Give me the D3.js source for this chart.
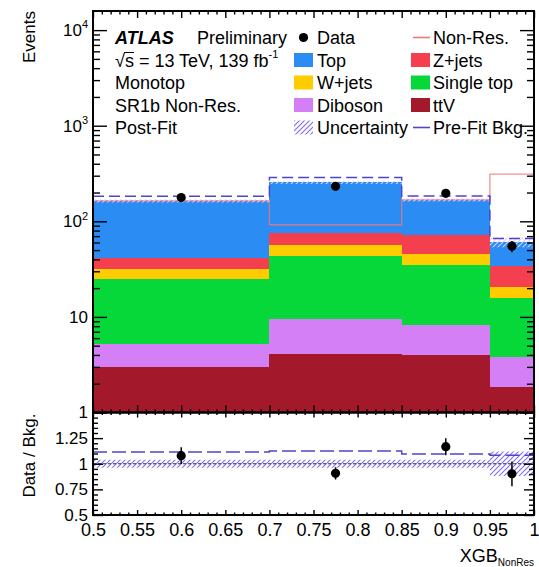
<!DOCTYPE html>
<html>
<head>
<meta charset="utf-8">
<script src="https://cdn.jsdelivr.net/npm/d3@7"></script>
<style>
  body { margin: 0; background: #fff; }
  svg text { font-family: "Liberation Sans", Arial, Helvetica, sans-serif; fill: #000; }
</style>
</head>
<body>
<div id="chart"></div>
<script>
// bin edges of XGB_NonRes and the post-fit background yields per bin
var binEdges     = [0.5, 0.7, 0.85, 0.95, 1.0];
var ttV          = [2.98, 4.12, 3.95, 1.87];
var diboson      = [2.26, 5.45, 4.20, 1.93];
var singleTop    = [19.9, 33.4, 26.5, 12.1];
var wJets        = [6.9, 13.0, 11.3, 4.6];
var zJets        = [9.7, 19.4, 25.4, 13.3];
var topBkg       = [122.3, 180.6, 96.7, 27.2];

var dataCounts   = [177, 232, 196, 55];
var dataErrors   = [13.3, 15.2, 14.0, 7.4];
var preFitBkg    = [183, 288, 184, 66];
var nonResSignal = [164, 92, 168, 311];
var bkgRelUnc    = [0.04, 0.04, 0.04, 0.12];

var xMajorTicks  = [0.5, 0.55, 0.6, 0.65, 0.7, 0.75, 0.8, 0.85, 0.9, 0.95, 1.0];
var xTickLabels  = ["0.5", "0.55", "0.6", "0.65", "0.7", "0.75", "0.8", "0.85", "0.9", "0.95", "1"];
var yMajorTicks  = [1, 10, 100, 1000, 10000];
var rMajorTicks  = [0.5, 0.75, 1, 1.25, 1.5];
var rTickLabels  = ["0.5", "0.75", "1", "1.25", ""];

var stackKeys = ["ttV", "diboson", "singleTop", "wJets", "zJets", "top"];
var colors = {
  top: "#2b8cf3",
  zJets: "#f4404e",
  wJets: "#ffcc00",
  singleTop: "#05d838",
  diboson: "#d47ff6",
  ttV: "#a3182b",
  nonRes: "#ee7777",
  preFit: "#4f43d0",
  hatch: "#7d6ef0"
};

var width = 539,
    height = 567;
// note: "top" is reserved on window, so the frame edges get plot* names
var plotLeft = 93, plotRight = 534, plotTop = 11, mainBottom = 412.5, ratioBottom = 515;

var xScale = d3.scaleLinear().domain([0.5, 1]).range([plotLeft, plotRight]);
var yScale = d3.scaleLog().domain([1, Math.pow(10, 4.2)]).range([mainBottom, plotTop]);
var rScale = d3.scaleLinear().domain([0.5, 1.5]).range([ratioBottom, mainBottom]);

var rows = binEdges.slice(0, -1).map(function(lo, i) {
  return {
    lo: lo, hi: binEdges[i + 1],
    ttV: ttV[i], diboson: diboson[i], singleTop: singleTop[i],
    wJets: wJets[i], zJets: zJets[i], top: topBkg[i]
  };
});
var totals = rows.map(function(r) {
  return d3.sum(stackKeys, function(k) { return r[k]; });
});

var svg = d3.select("#chart").append("svg")
    .attr("width", width)
    .attr("height", height);

var defs = svg.append("defs");
defs.append("clipPath").attr("id", "mainClip")
  .append("rect").attr("x", plotLeft).attr("y", plotTop)
    .attr("width", plotRight - plotLeft).attr("height", mainBottom - plotTop);
defs.append("clipPath").attr("id", "ratioClip")
  .append("rect").attr("x", plotLeft).attr("y", mainBottom)
    .attr("width", plotRight - plotLeft).attr("height", ratioBottom - mainBottom);

addHatch("hatchRatio", colors.hatch);
addHatch("hatchMain", "#d6d0ff");

drawStack();
drawMainOverlays();
drawRatio();
drawAxes();
drawLegend();

function addHatch(id, color) {
  var p = defs.append("pattern")
      .attr("id", id)
      .attr("patternUnits", "userSpaceOnUse")
      .attr("width", 5).attr("height", 5);
  p.append("path")
      .attr("d", "M-1,1 L1,-1 M0,5 L5,0 M4,6 L6,4")
      .attr("stroke", color)
      .attr("stroke-width", 1.1);
}

function stepPoints(values, extra) {
  var pts = values.map(function(v, i) { return [binEdges[i], v, extra ? extra[i] : 0]; });
  var n = values.length - 1;
  pts.push([binEdges[n + 1], values[n], extra ? extra[n] : 0]);
  return pts;
}

function drawStack() {
  var stack = d3.stack().keys(stackKeys)(rows);
  svg.append("g")
      .attr("clip-path", "url(#mainClip)")
    .selectAll("g")
    .data(stack)
    .enter().append("g")
      .attr("fill", function(d) { return colors[d.key]; })
    .selectAll("rect")
    .data(function(d) { return d; })
    .enter().append("rect")
      .attr("shape-rendering", "crispEdges")
      .attr("x", function(d) { return xScale(d.data.lo); })
      .attr("width", function(d) { return xScale(d.data.hi) - xScale(d.data.lo); })
      .attr("y", function(d) { return yScale(d[1]); })
      .attr("height", function(d) { return yScale(Math.max(d[0], 1)) - yScale(d[1]); });
}

function drawMainOverlays() {
  var g = svg.append("g").attr("clip-path", "url(#mainClip)");

  var line = d3.line()
      .x(function(d) { return xScale(d[0]); })
      .y(function(d) { return yScale(d[1]); })
      .curve(d3.curveStepAfter);

  g.append("path")
      .attr("d", line(stepPoints(nonResSignal)))
      .attr("fill", "none")
      .attr("stroke", colors.nonRes)
      .attr("stroke-opacity", 0.8)
      .attr("stroke-width", 1.3);

  var band = d3.area()
      .x(function(d) { return xScale(d[0]); })
      .y0(function(d) { return yScale(d[1] * (1 - d[2])); })
      .y1(function(d) { return yScale(d[1] * (1 + d[2])); })
      .curve(d3.curveStepAfter);
  g.append("path")
      .attr("d", band(stepPoints(totals, bkgRelUnc)))
      .attr("fill", "url(#hatchMain)");

  g.append("path")
      .attr("d", line(stepPoints(preFitBkg)))
      .attr("fill", "none")
      .attr("stroke", colors.preFit)
      .attr("stroke-width", 1.5)
      .attr("stroke-dasharray", "11,5");

  var pts = dataCounts.map(function(v, i) {
    return { x: (binEdges[i] + binEdges[i + 1]) / 2, y: v, e: dataErrors[i] };
  });
  g.selectAll("line.err")
    .data(pts)
    .enter().append("line")
      .attr("x1", function(d) { return xScale(d.x); })
      .attr("x2", function(d) { return xScale(d.x); })
      .attr("y1", function(d) { return yScale(d.y - d.e); })
      .attr("y2", function(d) { return yScale(d.y + d.e); })
      .attr("stroke", "#000")
      .attr("stroke-width", 1.5);
  g.selectAll("circle")
    .data(pts)
    .enter().append("circle")
      .attr("cx", function(d) { return xScale(d.x); })
      .attr("cy", function(d) { return yScale(d.y); })
      .attr("r", 4.6)
      .attr("fill", "#000");
}

function drawRatio() {
  var g = svg.append("g").attr("clip-path", "url(#ratioClip)");
  var ones = totals.map(function() { return 1; });

  var band = d3.area()
      .x(function(d) { return xScale(d[0]); })
      .y0(function(d) { return rScale(d[1] - d[2]); })
      .y1(function(d) { return rScale(d[1] + d[2]); })
      .curve(d3.curveStepAfter);
  g.append("path")
      .attr("d", band(stepPoints(ones, bkgRelUnc)))
      .attr("fill", "url(#hatchRatio)");

  g.append("line")
      .attr("x1", plotLeft).attr("x2", plotRight)
      .attr("y1", rScale(1)).attr("y2", rScale(1))
      .attr("stroke", "#333")
      .attr("stroke-width", 1)
      .attr("stroke-dasharray", "3,2");

  var line = d3.line()
      .x(function(d) { return xScale(d[0]); })
      .y(function(d) { return rScale(d[1]); })
      .curve(d3.curveStepAfter);
  var preFitRatio = preFitBkg.map(function(v, i) { return v / totals[i]; });
  g.append("path")
      .attr("d", line(stepPoints(preFitRatio)))
      .attr("fill", "none")
      .attr("stroke", colors.preFit)
      .attr("stroke-width", 1.5)
      .attr("stroke-dasharray", "14,5");

  var pts = dataCounts.map(function(v, i) {
    return { x: (binEdges[i] + binEdges[i + 1]) / 2, y: v / totals[i], e: dataErrors[i] / totals[i] };
  });
  g.selectAll("line.err")
    .data(pts)
    .enter().append("line")
      .attr("x1", function(d) { return xScale(d.x); })
      .attr("x2", function(d) { return xScale(d.x); })
      .attr("y1", function(d) { return rScale(d.y - d.e); })
      .attr("y2", function(d) { return rScale(d.y + d.e); })
      .attr("stroke", "#000")
      .attr("stroke-width", 1.5);
  g.selectAll("circle")
    .data(pts)
    .enter().append("circle")
      .attr("cx", function(d) { return xScale(d.x); })
      .attr("cy", function(d) { return rScale(d.y); })
      .attr("r", 4.6)
      .attr("fill", "#000");
}

function tickGroup(axis, tx, ty) {
  var g = svg.append("g")
      .attr("transform", "translate(" + tx + "," + ty + ")")
      .call(axis);
  g.select(".domain").remove();
  g.selectAll(".tick line").attr("stroke", "#000").attr("stroke-width", 1.4);
  g.selectAll(".tick text")
      .attr("font-size", 17)
      .attr("fill", "#000");
  return g;
}

function drawAxes() {
  var xMinor = d3.range(50, 101).map(function(v) { return v / 100; })
      .filter(function(v) { return Math.round(v * 100) % 5 !== 0; });
  var yMinor = yScale.ticks().filter(function(v) {
    return yMajorTicks.indexOf(v) < 0 && v <= yScale.domain()[1];
  });
  var rMinor = d3.range(10, 31).map(function(v) { return v / 20; })
      .filter(function(v) { return rMajorTicks.indexOf(v) < 0; });

  // main panel
  tickGroup(d3.axisBottom(xScale).tickValues(xMajorTicks).tickSize(-7).tickFormat(""), 0, mainBottom);
  tickGroup(d3.axisBottom(xScale).tickValues(xMinor).tickSize(-3.5).tickFormat(""), 0, mainBottom);
  tickGroup(d3.axisTop(xScale).tickValues(xMajorTicks).tickSize(-7).tickFormat(""), 0, plotTop);
  tickGroup(d3.axisTop(xScale).tickValues(xMinor).tickSize(-3.5).tickFormat(""), 0, plotTop);

  var yLeft = tickGroup(d3.axisLeft(yScale).tickValues(yMajorTicks).tickSize(-14).tickPadding(5)
      .tickFormat(function() { return ""; }), plotLeft, 0);
  yLeft.selectAll(".tick text").each(function(d) {
    var t = d3.select(this);
    var exp = Math.round(Math.log10(d));
    if (exp <= 1) {
      t.text(exp === 0 ? "1" : "10");
    } else {
      t.append("tspan").text("10");
      t.append("tspan").attr("font-size", 11).attr("dy", "-0.7em").text(exp);
    }
  });
  tickGroup(d3.axisLeft(yScale).tickValues(yMinor).tickSize(-7).tickFormat(""), plotLeft, 0);
  tickGroup(d3.axisRight(yScale).tickValues(yMajorTicks).tickSize(-14).tickFormat(""), plotRight, 0);
  tickGroup(d3.axisRight(yScale).tickValues(yMinor).tickSize(-7).tickFormat(""), plotRight, 0);

  // ratio panel
  tickGroup(d3.axisBottom(xScale).tickValues(xMajorTicks).tickSize(-5).tickPadding(8)
      .tickFormat(function(d, i) { return xTickLabels[i]; }), 0, ratioBottom)
    .selectAll(".tick text").attr("font-size", 18);
  tickGroup(d3.axisBottom(xScale).tickValues(xMinor).tickSize(-2.5).tickFormat(""), 0, ratioBottom);
  tickGroup(d3.axisTop(xScale).tickValues(xMajorTicks).tickSize(-5).tickFormat(""), 0, mainBottom);
  tickGroup(d3.axisTop(xScale).tickValues(xMinor).tickSize(-2.5).tickFormat(""), 0, mainBottom);

  tickGroup(d3.axisLeft(rScale).tickValues(rMajorTicks).tickSize(-10).tickPadding(5)
      .tickFormat(function(d, i) { return rTickLabels[i]; }), plotLeft, 0);
  tickGroup(d3.axisLeft(rScale).tickValues(rMinor).tickSize(-5).tickFormat(""), plotLeft, 0);
  tickGroup(d3.axisRight(rScale).tickValues(rMajorTicks).tickSize(-10).tickFormat(""), plotRight, 0);
  tickGroup(d3.axisRight(rScale).tickValues(rMinor).tickSize(-5).tickFormat(""), plotRight, 0);

  // frames
  [[plotTop, mainBottom], [mainBottom, ratioBottom]].forEach(function(p) {
    svg.append("rect")
        .attr("x", plotLeft).attr("y", p[0])
        .attr("width", plotRight - plotLeft).attr("height", p[1] - p[0])
        .attr("fill", "none")
        .attr("stroke", "#000")
        .attr("stroke-width", 2);
  });

  // titles
  svg.append("text")
      .attr("transform", "translate(35," + plotTop + ") rotate(-90)")
      .attr("text-anchor", "end")
      .attr("font-size", 17)
      .text("Events");
  svg.append("text")
      .attr("transform", "translate(35," + (mainBottom + 1) + ") rotate(-90)")
      .attr("text-anchor", "end")
      .attr("font-size", 17)
      .text("Data / Bkg.");
  var xt = svg.append("text")
      .attr("x", plotRight)
      .attr("y", 562)
      .attr("text-anchor", "end")
      .attr("font-size", 18);
  xt.append("tspan").text("XGB");
  xt.append("tspan").attr("font-size", 10).attr("dy", 3.5).text("NonRes");
}

function drawLegend() {
  var rowY = [44, 66.5, 89, 111.5, 134];
  var g = svg.append("g").attr("font-size", 18);

  var t0 = g.append("text").attr("x", 115).attr("y", rowY[0]);
  t0.append("tspan").attr("font-weight", "bold").attr("font-style", "italic").text("ATLAS");
  g.append("text").attr("x", 197).attr("y", rowY[0]).text("Preliminary");
  var t1 = g.append("text").attr("x", 115).attr("y", rowY[1]);
  t1.append("tspan").text("\u221As = 13 TeV, 139 fb");
  t1.append("tspan").attr("font-size", 11).attr("dy", "-0.75em").text("-1");
  // overbar of the square root
  g.append("line")
      .attr("x1", 124).attr("x2", 134)
      .attr("y1", rowY[1] - 14).attr("y2", rowY[1] - 14)
      .attr("stroke", "#000").attr("stroke-width", 1);
  g.append("text").attr("x", 115).attr("y", rowY[2]).text("Monotop");
  g.append("text").attr("x", 115).attr("y", rowY[3]).text("SR1b Non-Res.");
  g.append("text").attr("x", 115).attr("y", rowY[4]).text("Post-Fit");

  var boxX = [294, 411], textX = [317, 433];
  var entries = [
    { type: "dot",   label: "Data",         col: 0, row: 0 },
    { type: "line",  label: "Non-Res.",     col: 1, row: 0, color: colors.nonRes },
    { type: "box",   label: "Top",          col: 0, row: 1, color: colors.top },
    { type: "box",   label: "Z+jets",       col: 1, row: 1, color: colors.zJets },
    { type: "box",   label: "W+jets",       col: 0, row: 2, color: colors.wJets },
    { type: "box",   label: "Single top",   col: 1, row: 2, color: colors.singleTop },
    { type: "box",   label: "Diboson",      col: 0, row: 3, color: colors.diboson },
    { type: "box",   label: "ttV",          col: 1, row: 3, color: colors.ttV },
    { type: "hatch", label: "Uncertainty",  col: 0, row: 4 },
    { type: "line",  label: "Pre-Fit Bkg.", col: 1, row: 4, color: colors.preFit }
  ];

  entries.forEach(function(e) {
    var bx = boxX[e.col], cy = rowY[e.row] - 6.5;
    if (e.type === "dot") {
      g.append("circle").attr("cx", bx + 9.5).attr("cy", cy).attr("r", 4.6).attr("fill", "#000");
    } else if (e.type === "line") {
      g.append("line")
          .attr("x1", bx + 2).attr("x2", bx + 19)
          .attr("y1", cy).attr("y2", cy)
          .attr("stroke", e.color).attr("stroke-width", 1.6);
    } else {
      g.append("rect")
          .attr("x", bx).attr("y", cy - 7)
          .attr("width", 19).attr("height", 14)
          .attr("fill", e.type === "hatch" ? "url(#hatchRatio)" : e.color);
    }
    g.append("text").attr("x", textX[e.col]).attr("y", rowY[e.row]).text(e.label);
  });
}
</script>
</body>
</html>
